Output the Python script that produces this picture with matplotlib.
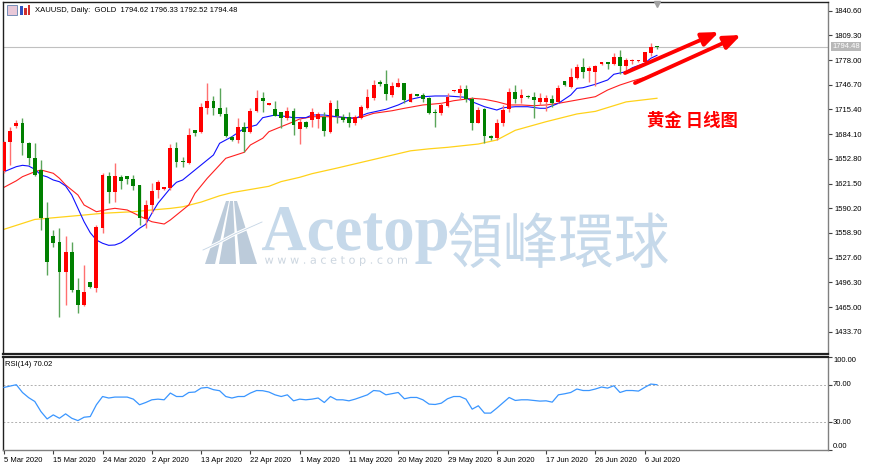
import matplotlib
matplotlib.use("Agg")
import matplotlib.pyplot as plt
from matplotlib.patches import Rectangle, Polygon, PathPatch
from matplotlib.textpath import TextPath
from matplotlib.font_manager import FontProperties
from matplotlib.transforms import Affine2D

# ---------------- data ----------------
date_labels = ["5 Mar 2020", "15 Mar 2020", "24 Mar 2020", "2 Apr 2020", "13 Apr 2020",
               "22 Apr 2020", "1 May 2020", "11 May 2020", "20 May 2020", "29 May 2020",
               "8 Jun 2020", "17 Jun 2020", "26 Jun 2020", "6 Jul 2020"]
date_idx = [0, 8, 16, 24, 32, 40, 48, 56, 64, 72, 80, 88, 96, 104]

opens = [1637, 1674.6, 1694.4, 1698.6, 1672.5, 1653.5, 1638.6, 1577.5, 1555, 1548,
         1510, 1535, 1486.6, 1467.6, 1496.3, 1488.7, 1564.8, 1631.4, 1611, 1630,
         1631, 1627, 1619.7, 1576.3, 1594.3, 1613.4, 1614.3, 1616, 1667, 1650,
         1647.2, 1689.4, 1686.4, 1717.7, 1726, 1717, 1709.3, 1681, 1676.7, 1693.6,
         1686.4, 1713.5, 1730.4, 1721, 1715.5, 1711.7, 1705, 1713.5, 1690.7, 1700,
         1702, 1703.3, 1706.4, 1687.2, 1715.5, 1706.4, 1706.4, 1698.6, 1704, 1717,
         1729.5, 1749.8, 1747.7, 1733.7, 1744.3, 1748.6, 1725.3, 1734.6, 1733.7, 1729.5,
         1712.6, 1710.6, 1720, 1738.5, 1736.7, 1741, 1728.3, 1698.6, 1715.6, 1681.8,
         1678.8, 1698, 1716.4, 1737.8, 1729.5, 1732.9, 1731.6, 1725.3, 1724.5, 1728.7,
         1724.5, 1751, 1744.3, 1755, 1768.8, 1764.6, 1763.3, 1772.6, 1775, 1772.6,
         1782.4, 1770.9, 1776.8, 1776.5, 1775.3, 1787, 1794.62]
highs = [1676, 1693.6, 1702, 1704, 1674, 1672.5, 1651, 1598.5, 1562.6, 1564.7,
         1555, 1548, 1501.4, 1518, 1497, 1569, 1634.5, 1636.5, 1647, 1632,
         1631.5, 1632, 1620, 1600.7, 1621.8, 1626, 1617.5, 1671, 1674.6, 1655.6,
         1691.5, 1690, 1723, 1748.6, 1733, 1743, 1719, 1681.5, 1705, 1700,
         1717.7, 1740, 1738, 1723.5, 1726, 1712.6, 1719, 1717.7, 1705, 1701,
         1717, 1712.6, 1712.6, 1727, 1727.4, 1710, 1712.6, 1708, 1720.5, 1741,
         1752.8, 1752.5, 1765.5, 1750.7, 1755, 1749.4, 1736, 1735.5, 1735.8, 1731.6,
         1715.6, 1724, 1736, 1740, 1746.4, 1746.4, 1731.6, 1719, 1716.9, 1683.5,
         1703, 1721, 1742.5, 1746.4, 1741.5, 1733.5, 1737.2, 1736, 1733.7, 1733.7,
         1746.4, 1751.5, 1767.8, 1773, 1780.3, 1771, 1772, 1775.5, 1776, 1786.6,
         1790.8, 1780.3, 1779.4, 1777.5, 1788.7, 1800, 1796.33]
lows = [1635, 1645, 1692, 1657.7, 1645, 1631, 1562, 1505.6, 1541.5, 1452.7,
        1467.6, 1484.5, 1457, 1466, 1489, 1484.5, 1558.4, 1596.5, 1598.5, 1615,
        1621, 1613.5, 1569, 1564.8, 1583.8, 1603, 1613.5, 1613.4, 1643, 1643,
        1646, 1682, 1685, 1709.3, 1709, 1707.5, 1681, 1676, 1672.5, 1661,
        1686, 1712, 1712, 1720.5, 1707, 1692, 1702, 1683, 1671, 1692.5,
        1693.6, 1691.5, 1682, 1686, 1698, 1700, 1693.6, 1696, 1703, 1715.6,
        1728, 1745, 1727.4, 1731.6, 1743.5, 1723, 1724.5, 1732, 1725, 1709.6,
        1693.6, 1708.4, 1719, 1738, 1728.3, 1725, 1689.4, 1697.9, 1672.5, 1677,
        1676.7, 1695, 1712.6, 1723, 1723, 1730.5, 1704, 1721, 1713.5, 1719,
        1723, 1745.5, 1742.5, 1754, 1755, 1750.6, 1745.6, 1772, 1766.7, 1771.6,
        1760, 1763.3, 1772.6, 1776, 1774, 1783.6, 1792.52]
closes = [1674.6, 1688.5, 1698.6, 1672.5, 1653.5, 1632.3, 1577.5, 1522.5, 1546.5, 1510,
          1535, 1486.6, 1467.6, 1484.5, 1490, 1566.8, 1632.3, 1611, 1631, 1625,
          1627, 1618.4, 1577.5, 1594.3, 1612.5, 1624, 1616.8, 1667, 1648.4, 1648.4,
          1683.6, 1685.2, 1718.9, 1726.6, 1717, 1709.3, 1682.2, 1676.7, 1693.6, 1687.3,
          1713.5, 1730.4, 1726.2, 1723.2, 1707.5, 1704, 1713.5, 1695.7, 1700, 1693.6,
          1711.7, 1709.3, 1688, 1723.2, 1707, 1702, 1698, 1705.5, 1719, 1731.8,
          1746.4, 1747.7, 1734.6, 1745.2, 1748.6, 1727.4, 1734.6, 1732.9, 1728.3, 1711.3,
          1710.6, 1721, 1731.8, 1739.3, 1741, 1728.3, 1698.6, 1714.7, 1681.8, 1679.3,
          1698.6, 1714.7, 1737.8, 1728.7, 1733.7, 1730.8, 1727.4, 1730.4, 1730.4, 1723.2,
          1742.5, 1746.4, 1756, 1768.8, 1763.3, 1768, 1771, 1775, 1772.6, 1782.4,
          1770, 1778, 1778, 1776.8, 1787.9, 1794.62, 1794.48]

# moving averages (bar index, value)
ma_fast_idx = [0, 2, 3, 4, 5, 6, 7, 8, 9, 10, 11, 12, 13, 14, 15, 16, 17, 18, 19, 20,
               21, 22, 23, 24, 25, 27, 28, 29, 31, 34, 35, 37, 39, 41, 42, 44, 46, 47, 49, 50,
               52, 54, 55, 57, 59, 62, 64, 66, 68, 70, 72, 75, 76, 78, 80, 81, 83, 85, 87, 88,
               90, 92, 93, 94, 96, 98, 99, 101, 102, 104, 105, 106]
ma_fast_val = [1636.5, 1642.9, 1644.6, 1643.7, 1639.6, 1632.3, 1630, 1626, 1623.8, 1618.4,
               1607, 1590.1, 1573.1, 1559.2, 1549.9, 1545.8, 1543.2, 1543.6, 1546.5, 1552.1,
               1558.4, 1564.8, 1569.8, 1583.8, 1596.5, 1615.5, 1623.1, 1626, 1638.7, 1657.7,
               1672.5, 1680.9, 1691.5, 1695.7, 1705, 1708.4, 1706.2, 1705, 1705, 1708.4,
               1708.4, 1706.2, 1705.5, 1704.2, 1710.5, 1715.6, 1721.1, 1728.3, 1731.6, 1732.5,
               1732.5, 1730.8, 1725.2, 1718.9, 1714.7, 1717.6, 1718.9, 1718.9, 1716.9, 1716.9,
               1723.2, 1733.7, 1742.2, 1743, 1747.3, 1752.8, 1760, 1763.3, 1768.3, 1773.9,
               1780.3, 1784]
ma_mid_idx = [0, 2, 3, 5, 6, 8, 9, 10, 12, 13, 15, 17, 18, 20, 22, 24, 26, 27, 30, 31,
              33, 35, 36, 39, 40, 42, 43, 45, 47, 48, 50, 52, 54, 56, 58, 60, 63, 65, 68, 71,
              73, 76, 78, 80, 82, 84, 86, 88, 90, 93, 96, 98, 100, 102, 104, 106]
ma_mid_val = [1616.7, 1625, 1630.2, 1636.5, 1638.7, 1634.5, 1628.2, 1619.7, 1607, 1594.3,
              1585.8, 1588.9, 1590.1, 1588, 1580.4, 1573.1, 1570.2, 1575.3, 1594.3, 1609.1,
              1628.2, 1645, 1653.5, 1661.1, 1670.4, 1678.9, 1687.2, 1693.6, 1699.9, 1703.3,
              1706.2, 1706.2, 1706.2, 1704.2, 1705.5, 1710.5, 1713.8, 1716.9, 1721.1, 1723.2,
              1726.5, 1729.6, 1728.3, 1725.2, 1721.1, 1721.1, 1720.2, 1721.1, 1723.2, 1727.4,
              1731.6, 1740.1, 1746.4, 1751.5, 1756, 1760]
ma_slow_idx = [0, 3, 5, 10, 13, 16, 21, 24, 27, 29, 32, 35, 37, 43, 45, 48, 50, 54, 60, 66,
               69, 72, 77, 80, 83, 88, 93, 96, 101, 106]
ma_slow_val = [1563.5, 1571, 1576, 1579.5, 1581.6, 1583.8, 1585.8, 1588, 1590, 1592,
               1598, 1606, 1610, 1618, 1624, 1629.4, 1634, 1641, 1652, 1663,
               1665.5, 1667.4, 1671.6, 1676.7, 1689, 1699.9, 1709.7, 1713, 1725, 1729.6]

rsi_idx = [0, 2, 3, 4, 5, 6, 7, 8, 9, 10, 11, 12, 13, 14, 15, 16, 17, 18, 20, 21,
           22, 23, 24, 25, 26, 27, 28, 29, 30, 31, 32, 33, 34, 35, 36, 37, 38, 39, 40, 41,
           42, 43, 44, 45, 46, 47, 48, 49, 50, 51, 52, 53, 54, 55, 56, 57, 59, 60, 61, 62,
           64, 65, 66, 67, 68, 69, 70, 71, 72, 73, 74, 75, 76, 77, 78, 79, 80, 82, 83, 84,
           85, 87, 88, 89, 90, 91, 92, 93, 94, 95, 96, 97, 98, 99, 100, 101, 102, 103, 104, 105, 106]
rsi_val = [67.1, 70.0, 61.7, 56.2, 52.1, 41.3, 33.5, 37.8, 34.2, 38.9,
           34.2, 31.7, 35.3, 36.0, 48.6, 57.4, 55.8, 56.8, 56.8, 54.6,
           48.6, 51.0, 53.9, 54.6, 53.9, 61.1, 57.4, 57.4, 61.7, 62.2,
           66.4, 67.1, 64.7, 63.6, 57.4, 55.8, 57.4, 57.4, 61.1, 63.8,
           63.6, 62.2, 59.2, 57.4, 59.2, 52.8, 54.6, 53.9, 54.6, 55.8,
           51.0, 57.4, 53.9, 53.9, 52.8, 54.6, 59.2, 63.8, 63.2, 59.2,
           61.7, 55.0, 56.4, 56.4, 53.9, 49.3, 48.9, 50.3, 55.0, 57.4,
           57.4, 54.6, 43.9, 47.5, 39.7, 39.7, 45.0, 56.4, 53.2, 53.9,
           53.9, 52.5, 52.8, 51.4, 59.2, 60.3, 61.7, 65.4, 63.8, 63.8,
           65.4, 67.5, 66.4, 68.9, 61.7, 63.8, 63.8, 63.2, 67.1, 70.7, 70.0]

price_ticks = [1840.60, 1809.30, 1778.00, 1746.70, 1715.40, 1684.10, 1652.80, 1621.50,
               1590.20, 1558.90, 1527.60, 1496.30, 1465.00, 1433.70]
rsi_levels = [30, 70]
rsi_ticks = [0, 30, 70, 100]
last_price = 1794.48
title_text = "XAUUSD, Daily:  GOLD  1794.62 1796.33 1792.52 1794.48"
rsi_text = "RSI(14) 70.02"
note_text = "黄金 日线图"

# ---------------- layout helpers ----------------
W, H = 870, 466
fig = plt.figure(figsize=(W / 100, H / 100), dpi=100)
fig.patch.set_facecolor("white")
PIX = Affine2D().scale(1.0 / W, -1.0 / H).translate(0, 1) + fig.transFigure

def fx(x):
    return x / W

def fy(y):
    return 1 - y / H

X0, DX = 4.0, 6.16                     # pixel position of bar 0 and bar spacing
def px2i(x):
    return (x - X0) / DX

P0, PY0, PSC = 1840.6, 10.7, 1.2676    # price at pixel row PY0, $ per pixel
def py2p(y):
    return P0 - (y - PY0) * PSC

SMALL = FontProperties(family=["Liberation Sans", "DejaVu Sans"], size=5.5)

# ---------------- axes ----------------
L, R = 3, 828
ax = fig.add_axes([fx(L), fy(354), fx(R) - fx(L), fy(2) - fy(354)])
ax2 = fig.add_axes([fx(L), fy(450.3), fx(R) - fx(L), fy(356.6) - fy(450.3)])
for a in (ax, ax2):
    a.set_xlim(px2i(L), px2i(R))
    a.set_facecolor("white")
    for s in a.spines.values():
        s.set_color("#202020")
        s.set_linewidth(1.0)
    a.spines["right"].set_color("#808080")
ax.spines["bottom"].set_linewidth(1.6)
ax2.spines["top"].set_linewidth(1.6)
ax2.spines["bottom"].set_color("#808080")
ax.set_ylim(py2p(354), py2p(2))
ax2.set_ylim(0, 100)

# price axis
ax.set_xticks([])
ax.yaxis.tick_right()
ax.set_yticks(price_ticks)
ax.set_yticklabels(["%.2f" % v for v in price_ticks], fontproperties=SMALL)
ax.tick_params(axis="y", direction="out", length=3, width=0.8, color="#404040", pad=1.5)

# RSI axis
ax2.yaxis.tick_right()
ax2.set_yticks(rsi_ticks)
ax2.set_yticklabels([])
ax2.tick_params(axis="y", direction="out", length=3, width=0.8, color="#404040")
for v, ypix in zip(rsi_ticks, [446.7, 422.3, 385.0, 361.0]):
    fig.text(fx(833), fy(ypix), "%.2f" % v, fontproperties=SMALL, ha="left", va="center")
ax2.set_xticks(date_idx)
ax2.set_xticklabels(date_labels, fontproperties=SMALL)
for lbl in ax2.get_xticklabels():
    lbl.set_ha("left")
ax2.tick_params(axis="x", direction="out", length=3, width=0.8, color="#404040", pad=1.5)

# ---------------- watermark ----------------
WM = "#c6d9ea"
def box_text(s, x0, x1, y0, y1, prop, color):
    tp = TextPath((0, 0), s, size=100, prop=prop)
    bb = tp.get_extents()
    tr = Affine2D().translate(-bb.x0, -bb.y1).scale((x1 - x0) / bb.width,
                                                     -(y1 - y0) / bb.height).translate(x0, y0)
    ax.add_patch(PathPatch(tr.transform_path(tp), facecolor=color, edgecolor="none",
                           transform=PIX, zorder=0.5))

box_text("Acetop", 262, 447, 207, 264,
         FontProperties(family=["Liberation Serif", "DejaVu Serif"], weight="bold"), WM)
box_text("領峰環球", 449, 668, 212, 268,
         FontProperties(family=["Noto Sans CJK TC", "Noto Sans CJK SC"]), WM)
box_text("w w w . a c e t o p . c o m", 265, 407, 256, 266,
         FontProperties(family=["DejaVu Sans"]), "#ccd6e0")
LOGO = "#bccbda"
for poly in ([(205, 264), (226, 201), (229, 201), (215, 264)],
             [(219, 264), (230, 201), (233, 201), (236, 264)],
             [(240, 264), (234, 201), (237, 201), (257, 264)]):
    ax.add_patch(Polygon(poly, closed=True, facecolor=LOGO, edgecolor="none",
                         transform=PIX, zorder=0.6))
ax.plot([203, 218, 235, 262], [250, 243, 234, 222], color="white", lw=2.2,
        transform=PIX, zorder=0.7, solid_capstyle="round")
ax.plot([203, 218, 235, 262], [250, 243, 234, 222], color="#c5d5e5", lw=0.6,
        transform=PIX, zorder=0.8)

# ---------------- candles ----------------
idx = list(range(len(closes)))
up = [c >= o for o, c in zip(opens, closes)]
body_col = ["#ff0000" if u else "#008000" for u in up]
wick_col = ["#ff7070" if u else "#5aa55a" for u in up]
body_lo = [min(o, c) for o, c in zip(opens, closes)]
body_h = [max(abs(c - o), 1.1) for o, c in zip(opens, closes)]
ax.vlines(idx, lows, highs, colors=wick_col, lw=1.0, zorder=3)
ax.bar(idx, body_h, bottom=body_lo, width=0.62, color=body_col, linewidth=0, zorder=4)

# moving averages
ax.plot(ma_slow_idx, ma_slow_val, color="#ffd21a", lw=0.9, zorder=2)
ax.plot(ma_mid_idx, ma_mid_val, color="#ff2020", lw=0.8, zorder=2)
ax.plot(ma_fast_idx, ma_fast_val, color="#1010ff", lw=0.8, zorder=2)

# bid line and its label
ax.axhline(last_price, color="#c0c0c0", lw=0.8, zorder=1)
fig.text(fx(832), fy(46.5), "%.2f" % last_price, fontproperties=SMALL, color="white",
         ha="left", va="center",
         bbox=dict(boxstyle="square,pad=0.15", facecolor="#b8b8b8", edgecolor="none"))

# chart shift marker
ax.plot([px2i(657)], [py2p(4)], marker="v", color="#a0a0a0", markersize=4,
        clip_on=False, zorder=5)

# annotation arrows and note
for (xa, ya), (xb, yb) in (((625, 73), (719, 32)), ((635, 83), (741, 35))):
    ax.annotate("", xy=(px2i(xb), py2p(yb)), xytext=(px2i(xa), py2p(ya)),
                arrowprops=dict(arrowstyle="-|>,head_length=1.0,head_width=0.4",
                                color="#ff0000", lw=2.8, shrinkA=0, shrinkB=0),
                zorder=6, annotation_clip=False)
fig.text(fx(647), fy(121), note_text, color="#ff0000", fontsize=12.5,
         family=["Noto Sans CJK SC", "DejaVu Sans"], ha="left", va="center", weight="bold")

# ---------------- RSI ----------------
for lv in rsi_levels:
    ax2.axhline(lv, color="#b0b0b0", lw=0.7, ls=(0, (2, 2)), zorder=1)
ax2.plot(rsi_idx, rsi_val, color="#3a96ff", lw=0.9, zorder=3)
fig.text(fx(5), fy(364), rsi_text, fontproperties=SMALL, ha="left", va="center")

# ---------------- title ----------------
fig.text(fx(35), fy(10), title_text, fontproperties=SMALL, ha="left", va="center")
fig.add_artist(Rectangle((7, 5), 10, 10, transform=PIX, facecolor="#e8c8d8",
                         edgecolor="#6080b0", lw=0.6))
fig.add_artist(Rectangle((20, 6), 3, 9, transform=PIX, facecolor="#3050c0", edgecolor="none"))
fig.add_artist(Rectangle((24, 8), 3, 7, transform=PIX, facecolor="#d03030", edgecolor="none"))
fig.add_artist(Rectangle((28, 5), 2, 10, transform=PIX, facecolor="#d03030", edgecolor="none"))

fig.savefig("out.png", dpi=100, facecolor="white")
